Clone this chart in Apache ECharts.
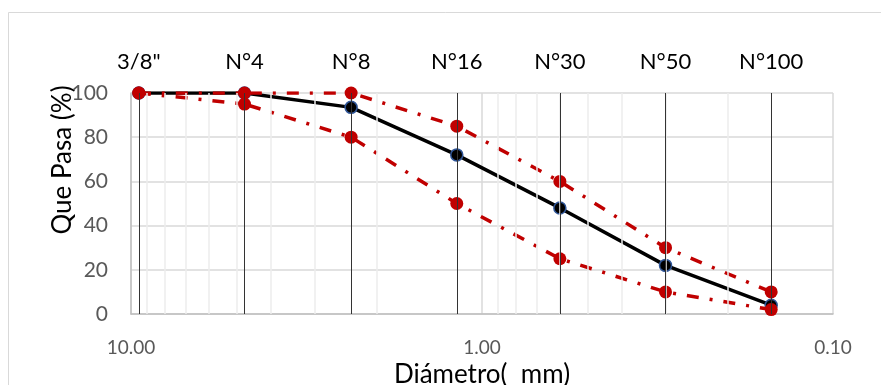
<!DOCTYPE html>
<html>
<head>
<meta charset="utf-8">
<script src="https://cdn.jsdelivr.net/npm/echarts@6/dist/echarts.min.js"></script>
<style>html,body{margin:0;padding:0;background:#fff;}#c{width:881px;height:385px;}</style>
</head>
<body>
<div id="c"></div>
<script>
const sieveLabels = ['3/8"', 'N°4', 'N°8', 'N°16', 'N°30', 'N°50', 'N°100'];
const diameters = [9.5, 4.75, 2.36, 1.18, 0.6, 0.3, 0.15];
const passing = [100, 100, 93.5, 72, 48, 22, 4];
const upperLimit = [100, 100, 100, 85, 60, 30, 10];
const lowerLimit = [100, 95, 80, 50, 25, 10, 2];
const minorGridValues = [9, 8, 7, 6, 5, 4, 3, 2, 0.9, 0.8, 0.7, 0.6, 0.5, 0.4, 0.3, 0.2];

const font = 'Lato';
const pairs = arr => diameters.map((d, i) => [d, arr[i]]);

const chart = echarts.init(document.getElementById('c'), null, {renderer: 'canvas'});
chart.setOption({
  animation: false,
  backgroundColor: '#fff',
  textStyle: {fontFamily: font},
  graphic: [
    {type: 'rect', shape: {x: 8.5, y: 12.5, width: 900, height: 420}, style: {fill: 'none', stroke: '#d9d9d9', lineWidth: 1}, z: -10},
    {type: 'text', x: 63, y: 160, rotation: Math.PI / 2,
     style: {text: 'Que Pasa (%)', fontFamily: font, fontSize: 26, fill: '#000', align: 'center', verticalAlign: 'middle'}}
  ],
  grid: {left: 131, right: 48, top: 93, bottom: 71, containLabel: false, outerBoundsMode: 'none'},
  xAxis: {
    type: 'log', logBase: 10, min: 0.1, max: 10, inverse: true, splitNumber: 2,
    name: 'Diámetro(  mm)', nameLocation: 'middle', nameGap: 46,
    nameTextStyle: {fontFamily: font, fontSize: 26, color: '#000'},
    axisLine: {show: true, lineStyle: {color: '#bfbfbf', width: 1.5}},
    axisTick: {show: false},
    axisLabel: {formatter: v => Number(v).toFixed(2), fontFamily: font, fontSize: 19, color: '#595959', margin: 24},
    splitLine: {show: true, lineStyle: {color: '#d9d9d9', width: 1.5}},
    minorSplitLine: {show: false}
  },
  yAxis: {
    type: 'value', min: 0, max: 100, interval: 20,
    axisLine: {show: true, lineStyle: {color: '#bfbfbf', width: 1.5}},
    axisTick: {show: false},
    axisLabel: {fontFamily: font, fontSize: 21, color: '#595959', margin: 23},
    splitLine: {show: true, lineStyle: {color: '#d9d9d9', width: 1.5}}
  },
  series: [
    {
      name: 'grid', type: 'line', data: [], z: 1, silent: true,
      markLine: {
        silent: true, symbol: 'none', animation: false,
        data: minorGridValues.map(v => ({xAxis: v, lineStyle: {color: '#ececec', width: 1.5, type: 'solid'}, label: {show: false}}))
          .concat(sieveLabels.map((n, i) => ({name: n, xAxis: diameters[i], lineStyle: {color: '#333', width: 1, type: 'solid'}}))),
        label: {show: true, position: 'end', formatter: '{b}', distance: 20, fontFamily: font, fontSize: 22, color: '#000'}
      }
    },
    {
      name: 'Muestra', type: 'line', data: pairs(passing), z: 3,
      symbol: 'circle', symbolSize: 12,
      itemStyle: {color: '#000', borderColor: '#2F5597', borderWidth: 1.5},
      lineStyle: {color: '#000', width: 3.5}
    },
    {
      name: 'Lím. superior', type: 'line', data: pairs(upperLimit), z: 4,
      symbol: 'circle', symbolSize: 13,
      itemStyle: {color: '#C00000'},
      lineStyle: {color: '#C00000', width: 3.5, type: [12, 11, 3, 11]}
    },
    {
      name: 'Lím. inferior', type: 'line', data: pairs(lowerLimit), z: 4,
      symbol: 'circle', symbolSize: 13,
      itemStyle: {color: '#C00000'},
      lineStyle: {color: '#C00000', width: 3.5, type: [12, 11, 3, 11]}
    }
  ]
});
</script>
</body>
</html>
